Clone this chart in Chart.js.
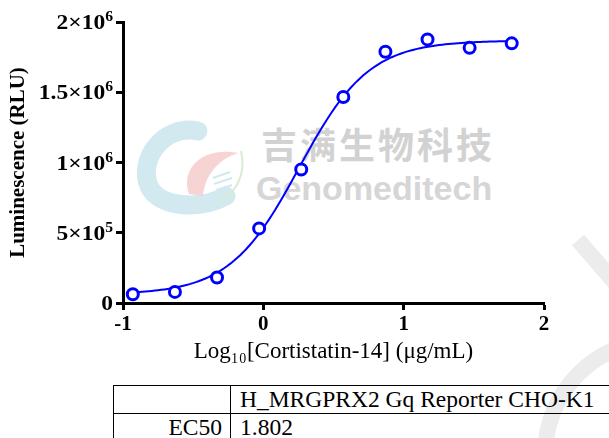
<!DOCTYPE html>
<html>
<head>
<meta charset="utf-8">
<script src="https://cdn.jsdelivr.net/npm/chart.js@4.4.1/dist/chart.umd.min.js"></script>
<style>
  html, body { margin: 0; padding: 0; background: #fff; overflow: hidden; }
  #wrap { position: relative; width: 609px; height: 438px; overflow: hidden; }
  #chartBox { position: absolute; left: 0; top: 0; width: 609px; height: 370px; }
  #deco { position: absolute; left: 0; top: 0; }
  .wm { position: absolute; font-weight: bold; white-space: nowrap; line-height: 1; }
  #wmCn { left: 261px; top: 125px; font-family: "Noto Sans CJK SC", sans-serif; font-size: 36px; letter-spacing: 3px; color: #d2d2d2; }
  #wmEn { left: 256px; top: 171px; font-family: "Liberation Sans", Arial, sans-serif; font-size: 34px; color: #d6d6d6; }
  table { position: absolute; left: 113px; top: 385px; width: 560px; table-layout: fixed; border-collapse: collapse;
          font-family: "Liberation Serif", "Times New Roman", serif; font-size: 23.5px; color: #000; }
  td { border: 1.5px solid #000; height: 27px; line-height: 27px; white-space: nowrap; overflow: hidden; padding: 0 8px 0 9px; }
  td.c1 { text-align: right; }
</style>
</head>
<body>
<div id="wrap">
  <svg id="deco" width="609" height="438">
    <!-- watermark swoosh pieces -->
    <line x1="578" y1="240" x2="630" y2="300" stroke="#ececec" stroke-width="16"/>
    <circle cx="660" cy="455" r="115" fill="none" stroke="#ececec" stroke-width="16"/>
    <!-- watermark logo -->
    <path d="M 198 131 C 163 124, 138 160, 149 186 C 159 208, 200 210, 226 196" fill="none" stroke="#d3e9f0" stroke-width="19" stroke-linecap="round"/>
    <path d="M 189 194 C 180 168, 203 146, 238 153 C 217 160, 205 176, 203 196 Z" fill="#f4cccc" opacity="0.85"/>
    <path d="M 241 151 C 246 172, 238 192, 220 200" fill="none" stroke="#d9ecd2" stroke-width="2"/>
    <g stroke="#d3e9f0" stroke-width="2">
      <line x1="213" y1="178" x2="230" y2="172"/>
      <line x1="214" y1="184" x2="232" y2="178"/>
      <line x1="216" y1="190" x2="232" y2="185"/>
    </g>
  </svg>
  <div class="wm" id="wmCn">吉满生物科技</div>
  <div class="wm" id="wmEn">Genomeditech</div>
  <div id="chartBox"><canvas id="doseChart"></canvas></div>
  <table>
    <colgroup><col style="width:117px"><col style="width:443px"></colgroup>
    <tr><td class="c1"></td><td>H_MRGPRX2 Gq Reporter CHO-K1</td></tr>
    <tr><td class="c1">EC50</td><td>1.802</td></tr>
  </table>
</div>
<script>
// Dose-response: Log10[Cortistatin-14] vs luminescence
const logDose = [-0.93, -0.63, -0.33, -0.03, 0.27, 0.57, 0.87, 1.17, 1.47, 1.77];
const rlu = [62000, 79000, 181000, 531000, 950000, 1466000, 1788000, 1876000, 1816000, 1848000];

// 4PL fit parameters (EC50 = 1.802 ug/mL)
const fitBottom = 60000;
const fitTop = 1868000;
const fitLogEC50 = Math.log10(1.802);
const fitHill = 1.75;

const xTicks = [-1, 0, 1, 2];
const yTicks = [0, 500000, 1000000, 1500000, 2000000];
const yTickBase = ['0', '5\u00d710', '1\u00d710', '1.5\u00d710', '2\u00d710'];
const yTickExp = ['', '5', '6', '6', '6'];

const curve = [];
for (let i = 0; i <= 120; i++) {
    const x = logDose[0] + (logDose[logDose.length - 1] - logDose[0]) * i / 120;
    const y = fitBottom + (fitTop - fitBottom) / (1 + Math.pow(10, (fitLogEC50 - x) * fitHill));
    curve.push({ x: x, y: y });
}

const serif = '"Liberation Serif", "Times New Roman", serif';

// y tick labels with superscript exponents (slightly widened like the original)
const yLabelPlugin = {
    id: 'yLabels',
    afterDraw(chart) {
        const ctx = chart.ctx;
        const ys = chart.scales.y;
        const right = ys.right - 10;
        ctx.save();
        ctx.fillStyle = '#000';
        ctx.textBaseline = 'alphabetic';
        yTicks.forEach((v, i) => {
            const py = ys.getPixelForValue(v) + 7;
            ctx.save();
            ctx.translate(right, py);
            ctx.scale(1.12, 1);
            ctx.font = 'bold 14px ' + serif;
            const ew = yTickExp[i] ? ctx.measureText(yTickExp[i]).width : 0;
            ctx.textAlign = 'left';
            if (ew) ctx.fillText(yTickExp[i], -ew, -8);
            ctx.font = 'bold 21px ' + serif;
            ctx.textAlign = 'right';
            ctx.fillText(yTickBase[i], -ew, 0);
            ctx.restore();
        });
        ctx.restore();
    }
};

const ctx = document.getElementById('doseChart');
new Chart(ctx, {
    type: 'scatter',
    data: {
        datasets: [{
            label: 'data',
            data: logDose.map((x, i) => ({ x: x, y: rlu[i] })),
            pointStyle: 'circle',
            pointRadius: 5.5,
            pointBorderWidth: 3,
            pointBorderColor: '#0000ff',
            pointBackgroundColor: '#ffffff',
            showLine: false,
            order: 1
        }, {
            label: 'fit',
            data: curve,
            showLine: true,
            borderColor: '#0000ff',
            borderWidth: 2,
            pointRadius: 0,
            tension: 0,
            order: 2
        }]
    },
    options: {
        responsive: true,
        maintainAspectRatio: false,
        animation: false,
        layout: { padding: { left: 0, top: 22, right: 65, bottom: 0 } },
        plugins: {
            legend: { display: false },
            tooltip: { enabled: false }
        },
        scales: {
            x: {
                type: 'linear',
                min: -1,
                max: 2,
                afterBuildTicks: (s) => { s.ticks = xTicks.map(v => ({ value: v })); },
                afterFit: (s) => { s.height = 67; },
                border: { color: '#000', width: 3 },
                grid: { drawOnChartArea: false, drawTicks: true, tickLength: 7, tickWidth: 3, color: '#000' },
                ticks: { color: '#000', font: { family: serif, size: 21, weight: 'bold' }, padding: 2 },
                title: {
                    display: true,
                    text: 'Log\u2081\u2080[Cortistatin-14] (\u03bcg/mL)',
                    color: '#000',
                    font: { family: serif, size: 23 },
                    padding: { top: 2 }
                }
            },
            y: {
                type: 'linear',
                min: 0,
                max: 2000000,
                afterBuildTicks: (s) => { s.ticks = yTicks.map(v => ({ value: v })); },
                afterFit: (s) => { s.width = 123; },
                border: { color: '#000', width: 3 },
                grid: { drawOnChartArea: false, drawTicks: true, tickLength: 7, tickWidth: 3, color: '#000' },
                ticks: { display: false },
                title: {
                    display: true,
                    text: 'Luminescence (RLU)',
                    color: '#000',
                    font: { family: serif, size: 21, weight: 'bold' },
                    padding: { top: 6, bottom: 0 }
                }
            }
        }
    },
    plugins: [yLabelPlugin]
});
</script>
</body>
</html>
